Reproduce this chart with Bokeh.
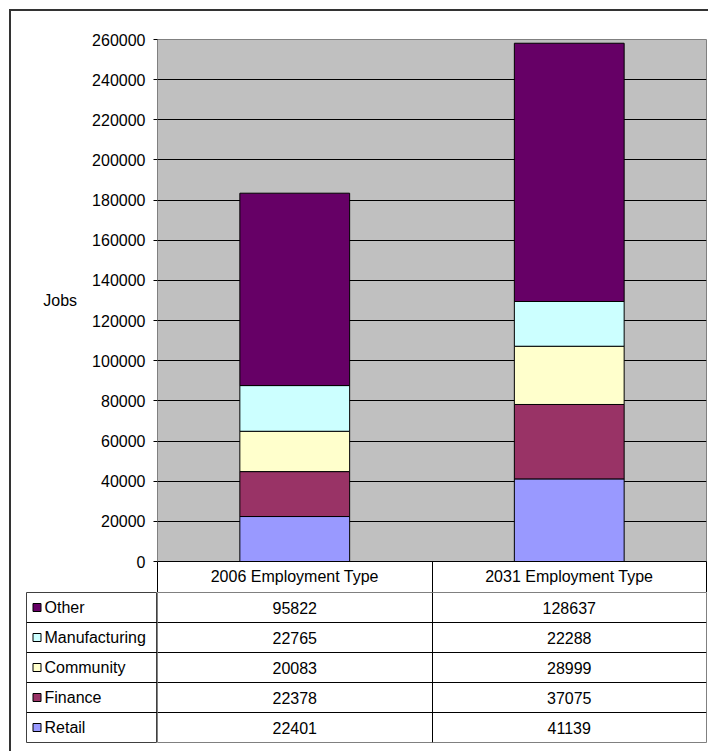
from bokeh.plotting import figure
from bokeh.layouts import column, row
from bokeh.models import Range1d, FixedTicker, ColumnDataSource, NumeralTickFormatter, Grid
from bokeh.core.properties import value
from bokeh.embed import file_html
from bokeh.resources import INLINE

# ---------------- data ----------------
categories = ["2006 Employment Type", "2031 Employment Type"]
series = ["Retail", "Finance", "Community", "Manufacturing", "Other"]
retail = [22401, 41139]
finance = [22378, 37075]
community = [20083, 28999]
manufacturing = [22765, 22288]
other = [95822, 128637]
colors = ["#9999FF", "#993366", "#FFFFCC", "#CCFFFF", "#660066"]
y_ticks = [0, 20000, 40000, 60000, 80000, 100000, 120000, 140000,
           160000, 180000, 200000, 220000, 240000, 260000]
y_label = "Jobs"

# ---------------- layout constants ----------------
FONT = "Liberation Sans"
FS = "16px"
W = 697
TOP_H = 581
BOT_H = 159
LEFT_W = 146
MR = 2

values = {"Retail": retail, "Finance": finance, "Community": community,
          "Manufacturing": manufacturing, "Other": other}

# ---------------- chart ----------------
xs = list(range(len(categories)))
src = ColumnDataSource(dict(x=xs, **values))

p = figure(width=W, height=TOP_H, x_range=Range1d(-0.5, len(categories) - 0.5),
           y_range=Range1d(y_ticks[0], y_ticks[-1]),
           output_backend="svg", toolbar_location=None,
           min_border_left=LEFT_W, min_border_right=MR, min_border_top=28, min_border_bottom=31)
p.background_fill_color = "#C0C0C0"
p.border_fill_color = "white"
p.outline_line_color = "#808080"

p.vbar_stack(series, x="x", width=0.4, source=src, fill_color=colors,
             line_color="black", line_width=1)

yt = FixedTicker(ticks=y_ticks)
p.yaxis.ticker = yt
p.yaxis.formatter = NumeralTickFormatter(format="0")
p.yaxis.axis_line_color = "#808080"
p.yaxis.major_tick_out = 4
p.yaxis.major_tick_in = 0
p.yaxis.major_tick_line_color = "black"
p.yaxis.minor_tick_out = 0
p.yaxis.minor_tick_in = 0
p.yaxis.major_label_standoff = 8
p.yaxis.major_label_text_font = FONT
p.yaxis.major_label_text_font_size = FS
p.yaxis.major_label_text_color = "black"
p.yaxis.axis_label = y_label
p.yaxis.axis_label_orientation = "horizontal"
p.yaxis.axis_label_text_font = FONT
p.yaxis.axis_label_text_font_size = FS
p.yaxis.axis_label_text_font_style = "normal"
p.yaxis.axis_label_text_color = "black"
p.yaxis.axis_label_standoff = 12

p.ygrid.ticker = yt
p.ygrid.grid_line_color = "black"
p.xgrid.visible = False

# x axis = header row of the data table
p.xaxis.ticker = FixedTicker(ticks=xs, minor_ticks=[x - 0.5 for x in xs] + [xs[-1] + 0.5])
p.xaxis.major_label_overrides = {x: c for x, c in zip(xs, categories)}
p.xaxis.axis_line_color = "black"
p.xaxis.major_tick_out = 0
p.xaxis.major_tick_in = 0
p.xaxis.minor_tick_out = 31
p.xaxis.minor_tick_in = 0
p.xaxis.minor_tick_line_color = "black"
p.xaxis.major_label_standoff = -25
p.xaxis.major_label_text_font = FONT
p.xaxis.major_label_text_font_size = FS
p.xaxis.major_label_text_color = "black"

# ---------------- data table ----------------
n = len(series)
rows_y = [k + 0.5 for k in range(n)]

# label column (legend keys + series names)
lbl = figure(width=LEFT_W, height=BOT_H, x_range=Range1d(0, 131), y_range=Range1d(0, n),
             output_backend="svg", toolbar_location=None,
             x_axis_location=None, y_axis_location=None,
             min_border_left=15, min_border_right=0, min_border_top=0, min_border_bottom=9)
lbl.background_fill_color = "white"
lbl.border_fill_color = "white"
lbl.outline_line_color = "#404040"
lbl.xgrid.visible = False
lbl.ygrid.visible = False
lbl.add_layout(Grid(dimension=1, ticker=FixedTicker(ticks=list(range(1, n))),
                    grid_line_color="black"))
lbl.scatter(x=[10.5] * n, y=rows_y, marker="square", size=8,
            fill_color=colors, line_color="black", line_width=1)
lbl.text(x=[18] * n, y=rows_y, text=series, text_baseline="middle",
         text_align="left", text_font=value(FONT), text_font_size=FS, text_color="black")

# value columns
t = figure(width=W - LEFT_W, height=BOT_H, x_range=Range1d(-0.5, len(categories) - 0.5),
           y_range=Range1d(0, n),
           output_backend="svg", toolbar_location=None,
           x_axis_location=None, y_axis_location=None,
           min_border_left=0, min_border_right=MR, min_border_top=0, min_border_bottom=9)
t.background_fill_color = "white"
t.border_fill_color = "white"
t.outline_line_color = "#808080"
t.xgrid.visible = False
t.ygrid.visible = False
t.add_layout(Grid(dimension=1, ticker=FixedTicker(ticks=list(range(1, n))),
                  grid_line_color="black"))
t.add_layout(Grid(dimension=0, ticker=FixedTicker(ticks=[x - 0.5 for x in xs]),
                  grid_line_color="black"))
for x in xs:
    t.text(x=[x] * n, y=rows_y, text=[str(values[s][x]) for s in series],
           text_baseline="middle", text_align="center",
           text_font=value(FONT), text_font_size=FS, text_color="black")

layout = column(p, row(lbl, t, spacing=0), spacing=0,
                styles={"margin-left": "9px", "margin-top": "9px",
                        "border-left": "2px solid #333333", "border-top": "2px solid #333333"})

open("out.html", "w").write(file_html(layout, INLINE))
